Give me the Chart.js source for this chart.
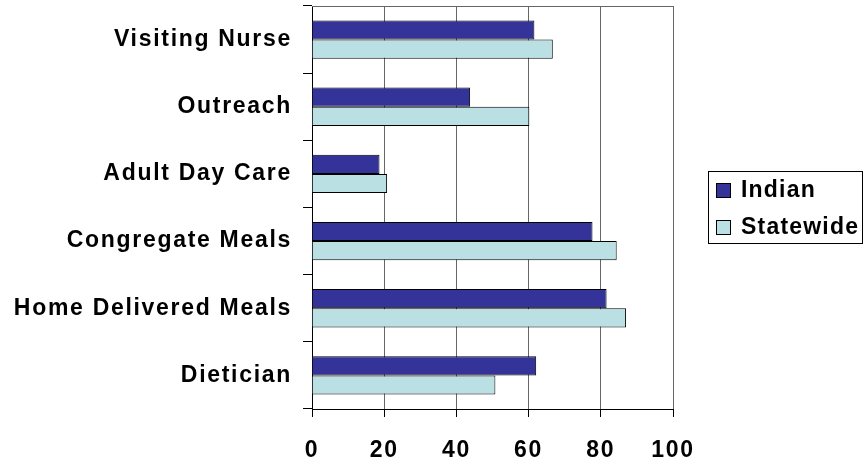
<!DOCTYPE html>
<html>
<head>
<meta charset="utf-8">
<script src="https://cdn.jsdelivr.net/npm/chart.js@4"></script>
<style>
  body { margin: 0; background: #fff; }
  #wrap { width: 865px; height: 466px; }
</style>
</head>
<body>
<div id="wrap"><canvas id="chart" width="865" height="466"></canvas></div>
<script>
// data
const categories = ['Visiting Nurse', 'Outreach', 'Adult Day Care', 'Congregate Meals', 'Home Delivered Meals', 'Dietician'];
const indian = [61.6, 43.8, 18.7, 77.7, 81.6, 62.1];
const statewide = [66.7, 60.2, 20.8, 84.4, 87.0, 50.8];
const xTicks = [0, 20, 40, 60, 80, 100];

const labelFont = { family: '"Liberation Sans", Arial, sans-serif', size: 23, weight: 'bold' };

// wider text like the original
const spacing = {
    id: 'spacing',
    beforeDraw(chart) { chart.ctx.letterSpacing = '1.7px'; }
};

// top edge of the plot box
const plotTop = {
    id: 'plotTop',
    afterDraw(chart) {
        const { ctx, chartArea } = chart;
        ctx.save();
        ctx.strokeStyle = '#666';
        ctx.lineWidth = 1;
        ctx.beginPath();
        ctx.moveTo(chartArea.left, Math.round(chartArea.top) + 0.5);
        ctx.lineTo(chartArea.right + 0.5, Math.round(chartArea.top) + 0.5);
        ctx.stroke();
        ctx.restore();
    }
};

// boxed legend on the right
const boxLegend = {
    id: 'boxLegend',
    afterDraw(chart) {
        const ctx = chart.ctx;
        const x = 708.5, y = 171.5, w = 154, h = 72;
        ctx.save();
        ctx.strokeStyle = '#000';
        ctx.lineWidth = 1;
        ctx.strokeRect(x, y, w, h);
        ctx.font = 'bold 23px "Liberation Sans", Arial, sans-serif';
        ctx.letterSpacing = '1.2px';
        ctx.textBaseline = 'middle';
        chart.data.datasets.forEach((ds, i) => {
            const cy = 190 + i * 37;
            ctx.fillStyle = ds.backgroundColor;
            ctx.fillRect(716, cy - 7, 14, 14);
            ctx.strokeRect(716.5, cy - 6.5, 14, 14);
            ctx.fillStyle = '#000';
            ctx.fillText(ds.label, 741, cy + 1);
        });
        ctx.restore();
    }
};

new Chart(document.getElementById('chart'), {
    type: 'bar',
    data: {
        labels: categories,
        datasets: [
            { label: 'Indian', data: indian, backgroundColor: '#333399', borderColor: '#000', borderWidth: 1, borderSkipped: 'start' },
            { label: 'Statewide', data: statewide, backgroundColor: '#BBE0E3', borderColor: '#000', borderWidth: 1, borderSkipped: 'start' }
        ]
    },
    options: {
        indexAxis: 'y',
        responsive: false,
        animation: false,
        devicePixelRatio: 1,
        layout: { padding: { top: 6, right: 192, left: 0, bottom: 0 } },
        datasets: { bar: { categoryPercentage: 0.57, barPercentage: 1 } },
        plugins: {
            legend: { display: false },
            tooltip: { enabled: false }
        },
        scales: {
            x: {
                min: 0,
                max: 100,
                afterBuildTicks(scale) { scale.ticks = xTicks.map(v => ({ value: v })); },
                afterFit(scale) { scale.height = 57; scale.paddingLeft = 0; scale.paddingRight = 0; },
                ticks: { font: labelFont, color: '#000', padding: 20 },
                grid: { color: '#666', tickColor: '#000', tickLength: 8 },
                border: { color: '#000' }
            },
            y: {
                afterFit(scale) { scale.width = 312; scale.paddingTop = 0; scale.paddingBottom = 0; },
                ticks: { font: labelFont, color: '#000', padding: 11 },
                grid: { drawOnChartArea: false, tickColor: '#000', tickLength: 9, offset: true },
                border: { color: '#000' }
            }
        }
    },
    plugins: [spacing, plotTop, boxLegend]
});
</script>
</body>
</html>
